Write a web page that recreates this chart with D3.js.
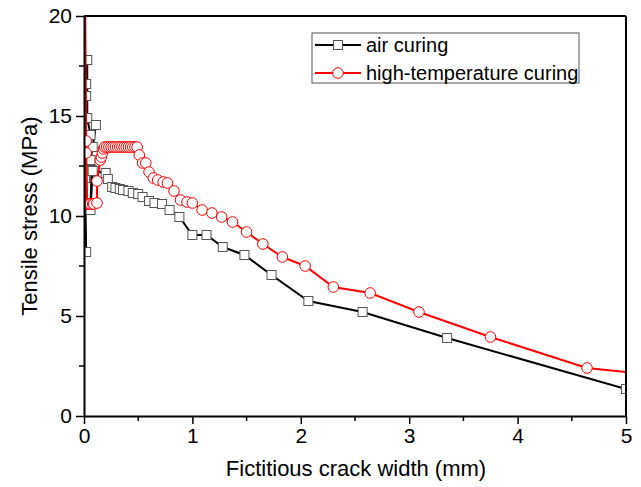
<!DOCTYPE html>
<html>
<head>
<meta charset="utf-8">
<script src="https://cdn.jsdelivr.net/npm/d3@7"></script>
<style>
  body { margin: 0; background: #fff; }
  text { font-family: Arial, "Liberation Sans", sans-serif; }
</style>
</head>
<body>
<div class="chart"></div>
<script>
// data: [crack width (mm), tensile stress (MPa)]
const airCuring = [
    [0.02, 8.2], [0.01, 11.9], [0.02, 14.9], [0.02, 16.0], [0.02, 16.6],
    [0.03, 17.8], [0.03, 14.9], [0.06, 14.05], [0.11, 14.55], [0.08, 13.45],
    [0.06, 12.8], [0.07, 12.3], [0.06, 10.3], [0.08, 12.25], [0.20, 12.15],
    [0.22, 11.85], [0.26, 11.45], [0.29, 11.4], [0.33, 11.35], [0.36, 11.3],
    [0.41, 11.25], [0.45, 11.15], [0.50, 11.1], [0.54, 10.95], [0.60, 10.75],
    [0.65, 10.65], [0.72, 10.6], [0.79, 10.3], [0.88, 9.95], [1.00, 9.05],
    [1.13, 9.05], [1.28, 8.45], [1.48, 8.05], [1.73, 7.05], [2.07, 5.75],
    [2.57, 5.2], [3.35, 3.9], [5.00, 1.35]
]

const highTempCuring = [
    [0.01, 10.6], [0.01, 21.0], [0.02, 13.75], [0.02, 13.15], [0.03, 10.6],
    [0.04, 10.6], [0.05, 10.6], [0.06, 10.6], [0.08, 10.6], [0.09, 10.6],
    [0.12, 10.65], [0.12, 11.75], [0.15, 12.8], [0.16, 12.95], [0.17, 13.15],
    [0.18, 13.35], [0.19, 13.45], [0.21, 13.45], [0.23, 13.45], [0.25, 13.45],
    [0.27, 13.45], [0.29, 13.45], [0.31, 13.45], [0.33, 13.45], [0.35, 13.45],
    [0.37, 13.45], [0.39, 13.45], [0.41, 13.45], [0.43, 13.45], [0.45, 13.45],
    [0.47, 13.45], [0.49, 13.45], [0.51, 13.05], [0.54, 12.65], [0.57, 12.65],
    [0.60, 12.2], [0.64, 11.9], [0.68, 11.8], [0.73, 11.7], [0.77, 11.65],
    [0.83, 11.25], [0.89, 10.8], [0.95, 10.7], [1.00, 10.65], [1.09, 10.3],
    [1.18, 10.15], [1.27, 9.95], [1.37, 9.7], [1.50, 9.2], [1.65, 8.6],
    [1.83, 7.95], [2.04, 7.5], [2.30, 6.45], [2.64, 6.15], [3.09, 5.2],
    [3.75, 3.95], [4.64, 2.4], [5.30, 2.03]
]

const seriesNames = ['air curing', 'high-temperature curing']
const xTicks = [0, 1, 2, 3, 4, 5]
const xMinorTicks = [0.5, 1.5, 2.5, 3.5, 4.5]
const yTicks = [0, 5, 10, 15, 20]
const yMinorTicks = [2.5, 7.5, 12.5, 17.5]

function setupCanvas() {
    const svg_width = 641
    const svg_height = 487
    const margin = { top: 16, bottom: 71, right: 15, left: 84 }
    const chart_width = svg_width - (margin.left + margin.right)
    const chart_height = svg_height - (margin.top + margin.bottom)

    const svg = d3.select('.chart').append('svg')
        .attr('width', svg_width).attr('height', svg_height)
    svg.append('rect').attr('width', svg_width).attr('height', svg_height).attr('fill', '#fff')

    const g = svg.append('g')
        .attr('transform', `translate(${margin.left},${margin.top})`)

    const xScale = d3.scaleLinear().domain([0, 5]).range([0, chart_width])
    const yScale = d3.scaleLinear().domain([0, 20]).range([chart_height, 0])

    g.append('clipPath').attr('id', 'plot-clip')
        .append('rect').attr('width', chart_width).attr('height', chart_height)

    const plot = g.append('g').attr('clip-path', 'url(#plot-clip)')
    const line = d3.line().x(d => xScale(d[0])).y(d => yScale(d[1]))

    // air curing
    plot.append('path').datum(airCuring)
        .attr('d', line).attr('fill', 'none')
        .attr('stroke', '#000').attr('stroke-width', 2)
    plot.selectAll('.sq').data(airCuring).enter()
        .append('rect').attr('class', 'sq')
        .attr('x', d => xScale(d[0]) - 4.5).attr('y', d => yScale(d[1]) - 4.5)
        .attr('width', 9).attr('height', 9)
        .attr('fill', '#fff').attr('stroke', '#555').attr('stroke-width', 1)

    // high-temperature curing
    plot.append('path').datum(highTempCuring)
        .attr('d', line).attr('fill', 'none')
        .attr('stroke', '#f00').attr('stroke-width', 2)
    plot.selectAll('.ci').data(highTempCuring).enter()
        .append('circle').attr('class', 'ci')
        .attr('cx', d => xScale(d[0])).attr('cy', d => yScale(d[1]))
        .attr('r', 5.3)
        .attr('fill', '#fff').attr('stroke', '#f00').attr('stroke-width', 1)

    // axes
    const xAxis = d3.axisBottom(xScale).tickValues(xTicks).tickFormat(d3.format('d'))
        .tickSize(8).tickSizeOuter(0).tickPadding(4)
    const xAxisDraw = g.append('g').attr('transform', `translate(0,${chart_height})`).call(xAxis)
    xAxisDraw.selectAll('.minor').data(xMinorTicks).enter()
        .append('line').attr('class', 'minor')
        .attr('x1', d => xScale(d)).attr('x2', d => xScale(d))
        .attr('y1', 0).attr('y2', 5).attr('stroke', '#000').attr('stroke-width', 1.5)

    const yAxis = d3.axisLeft(yScale).tickValues(yTicks).tickFormat(d3.format('d'))
        .tickSize(8).tickSizeOuter(0).tickPadding(4)
    const yAxisDraw = g.append('g').call(yAxis)
    yAxisDraw.selectAll('.minor').data(yMinorTicks).enter()
        .append('line').attr('class', 'minor')
        .attr('x1', 0).attr('x2', -5)
        .attr('y1', d => yScale(d)).attr('y2', d => yScale(d))
        .attr('stroke', '#000').attr('stroke-width', 1.5)

    g.selectAll('.domain').attr('stroke-width', 2)
    g.selectAll('.tick line').attr('stroke-width', 1.5)
    g.selectAll('.tick text').style('font-size', '21px').attr('fill', '#000')

    // frame on top and right
    g.append('line').attr('x1', 0).attr('x2', chart_width).attr('y1', 0).attr('y2', 0)
        .attr('stroke', '#000').attr('stroke-width', 2)
    g.append('line').attr('x1', chart_width).attr('x2', chart_width).attr('y1', 0).attr('y2', chart_height)
        .attr('stroke', '#000').attr('stroke-width', 2)

    // axis titles
    svg.append('text').text('Fictitious crack width (mm)')
        .attr('x', 356).attr('y', 476).attr('text-anchor', 'middle')
        .style('font-size', '22px')
    svg.append('text').text('Tensile stress (MPa)')
        .attr('transform', 'translate(37,216) rotate(-90)').attr('text-anchor', 'middle')
        .style('font-size', '22px')

    // legend
    const legend = svg.append('g').attr('transform', 'translate(312,33)')
    legend.append('rect').attr('width', 267).attr('height', 50)
        .attr('fill', '#fff').attr('stroke', '#555').attr('stroke-width', 1)
    const rows = legend.selectAll('.row').data(seriesNames).enter()
        .append('g').attr('transform', (d, i) => `translate(0,${12 + i * 28})`)
    rows.append('line').attr('x1', 3).attr('x2', 49).attr('y1', 0).attr('y2', 0)
        .attr('stroke', (d, i) => i === 0 ? '#000' : '#f00').attr('stroke-width', 2)
    rows.filter((d, i) => i === 0).append('rect')
        .attr('x', 21.5).attr('y', -4.5).attr('width', 9).attr('height', 9)
        .attr('fill', '#fff').attr('stroke', '#555')
    rows.filter((d, i) => i === 1).append('circle')
        .attr('cx', 26).attr('cy', 0).attr('r', 5.3)
        .attr('fill', '#fff').attr('stroke', '#f00')
    rows.append('text').text(d => d)
        .attr('x', 54).attr('y', 7).style('font-size', '20px')
}

setupCanvas()
</script>
</body>
</html>
